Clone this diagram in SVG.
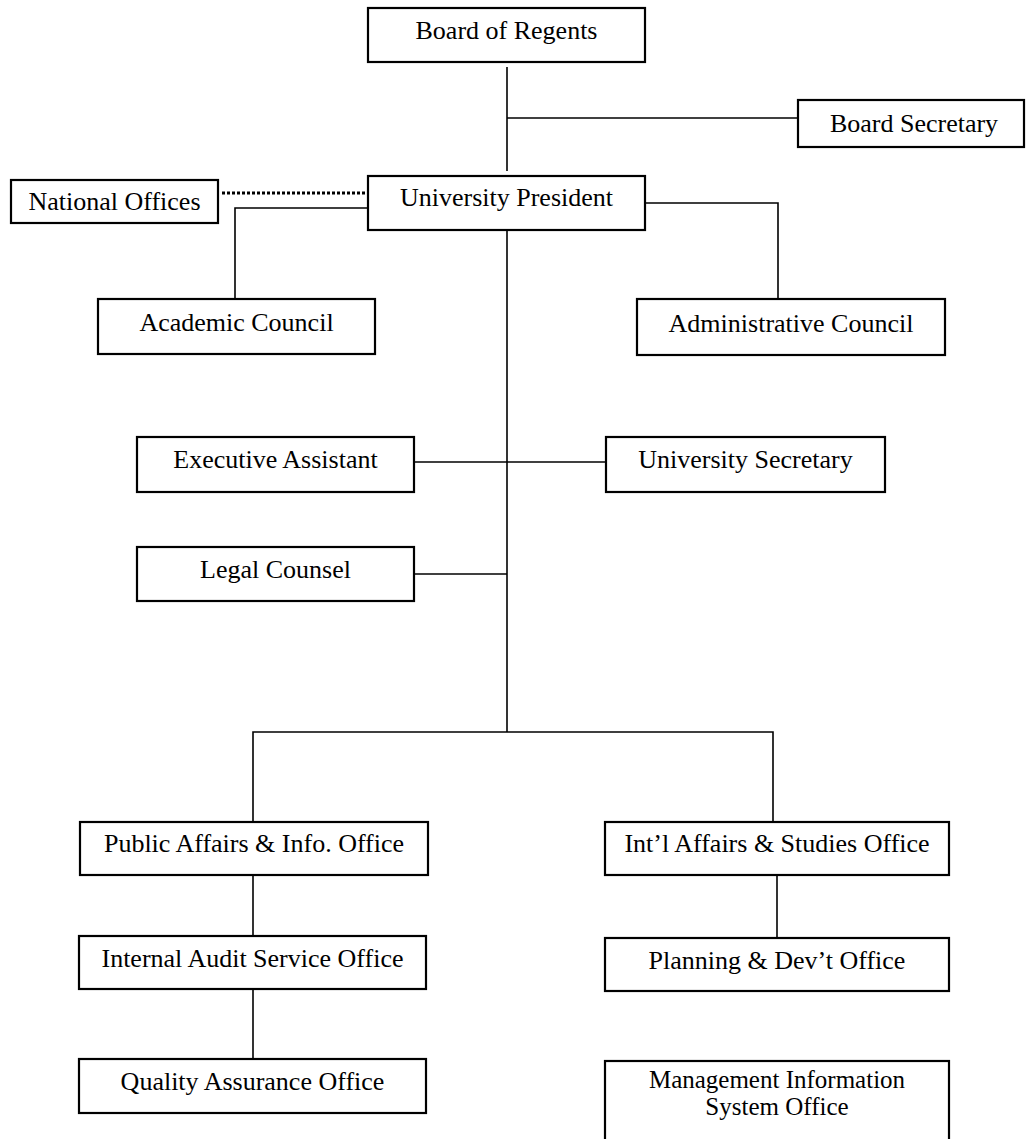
<svg xmlns="http://www.w3.org/2000/svg" width="1026" height="1139" viewBox="0 0 1026 1139">
  <style>
    .box { fill: #fff; stroke: #000; stroke-width: 2.2; }
    .lbl { font-family: "Liberation Serif", "Times New Roman", serif; font-size: 26px; fill: #000; text-anchor: middle; }
    .lbl-sm { font-size: 25px; }
    .wire { fill: none; stroke: #000; stroke-width: 1.6; }
    .dotted { fill: none; stroke: #000; stroke-width: 3; stroke-dasharray: 3 2; }
  </style>
  <rect width="1026" height="1139" fill="#fff"/>

  <!-- connectors -->
  <g id="connectors">
    <path class="wire" d="M507,67 V171"/>
    <path class="wire" d="M507,118 H798"/>
    <path class="dotted" d="M222,193 H366"/>
    <path class="wire" d="M367,208 H235 V299"/>
    <path class="wire" d="M645,203 H778 V299"/>
    <path class="wire" d="M507,230 V732"/>
    <path class="wire" d="M415,462 H606"/>
    <path class="wire" d="M415,574 H507"/>
    <path class="wire" d="M253,822 V732 H773 V822"/>
    <path class="wire" d="M253,875 V936"/>
    <path class="wire" d="M253,989 V1059"/>
    <path class="wire" d="M777,875 V938"/>
  </g>

  <!-- nodes -->
  <g id="board-of-regents">
    <rect class="box" x="368" y="8" width="277" height="54"/>
    <text class="lbl" x="506.5" y="39">Board of Regents</text>
  </g>
  <g id="board-secretary">
    <rect class="box" x="798" y="100" width="226" height="47"/>
    <text class="lbl" x="914" y="132">Board Secretary</text>
  </g>
  <g id="university-president">
    <rect class="box" x="368" y="176" width="277" height="54"/>
    <text class="lbl" x="506.5" y="206">University President</text>
  </g>
  <g id="national-offices">
    <rect class="box" x="11" y="180" width="207" height="43"/>
    <text class="lbl" x="114.5" y="210">National Offices</text>
  </g>
  <g id="academic-council">
    <rect class="box" x="98" y="299" width="277" height="55"/>
    <text class="lbl" x="236.5" y="331">Academic Council</text>
  </g>
  <g id="administrative-council">
    <rect class="box" x="637" y="299" width="308" height="56"/>
    <text class="lbl" x="791" y="332">Administrative Council</text>
  </g>
  <g id="executive-assistant">
    <rect class="box" x="137" y="437" width="277" height="55"/>
    <text class="lbl" x="275.5" y="468">Executive Assistant</text>
  </g>
  <g id="university-secretary">
    <rect class="box" x="606" y="437" width="279" height="55"/>
    <text class="lbl" x="745.5" y="468">University Secretary</text>
  </g>
  <g id="legal-counsel">
    <rect class="box" x="137" y="547" width="277" height="54"/>
    <text class="lbl" x="275.5" y="578">Legal Counsel</text>
  </g>
  <g id="public-affairs">
    <rect class="box" x="80" y="822" width="348" height="53"/>
    <text class="lbl" x="254" y="852">Public Affairs &amp; Info. Office</text>
  </g>
  <g id="intl-affairs">
    <rect class="box" x="605" y="822" width="344" height="53"/>
    <text class="lbl" x="777" y="852">Int’l Affairs &amp; Studies Office</text>
  </g>
  <g id="internal-audit">
    <rect class="box" x="79" y="936" width="347" height="53"/>
    <text class="lbl" x="252.5" y="967">Internal Audit Service Office</text>
  </g>
  <g id="planning-dev">
    <rect class="box" x="605" y="938" width="344" height="53"/>
    <text class="lbl" x="777" y="969">Planning &amp; Dev’t Office</text>
  </g>
  <g id="quality-assurance">
    <rect class="box" x="79" y="1059" width="347" height="54"/>
    <text class="lbl" x="252.5" y="1090">Quality Assurance Office</text>
  </g>
  <g id="mis-office">
    <rect class="box" x="605" y="1061" width="344" height="100"/>
    <text class="lbl lbl-sm" x="777" y="1088">Management Information</text>
    <text class="lbl lbl-sm" x="777" y="1115">System Office</text>
  </g>
</svg>
